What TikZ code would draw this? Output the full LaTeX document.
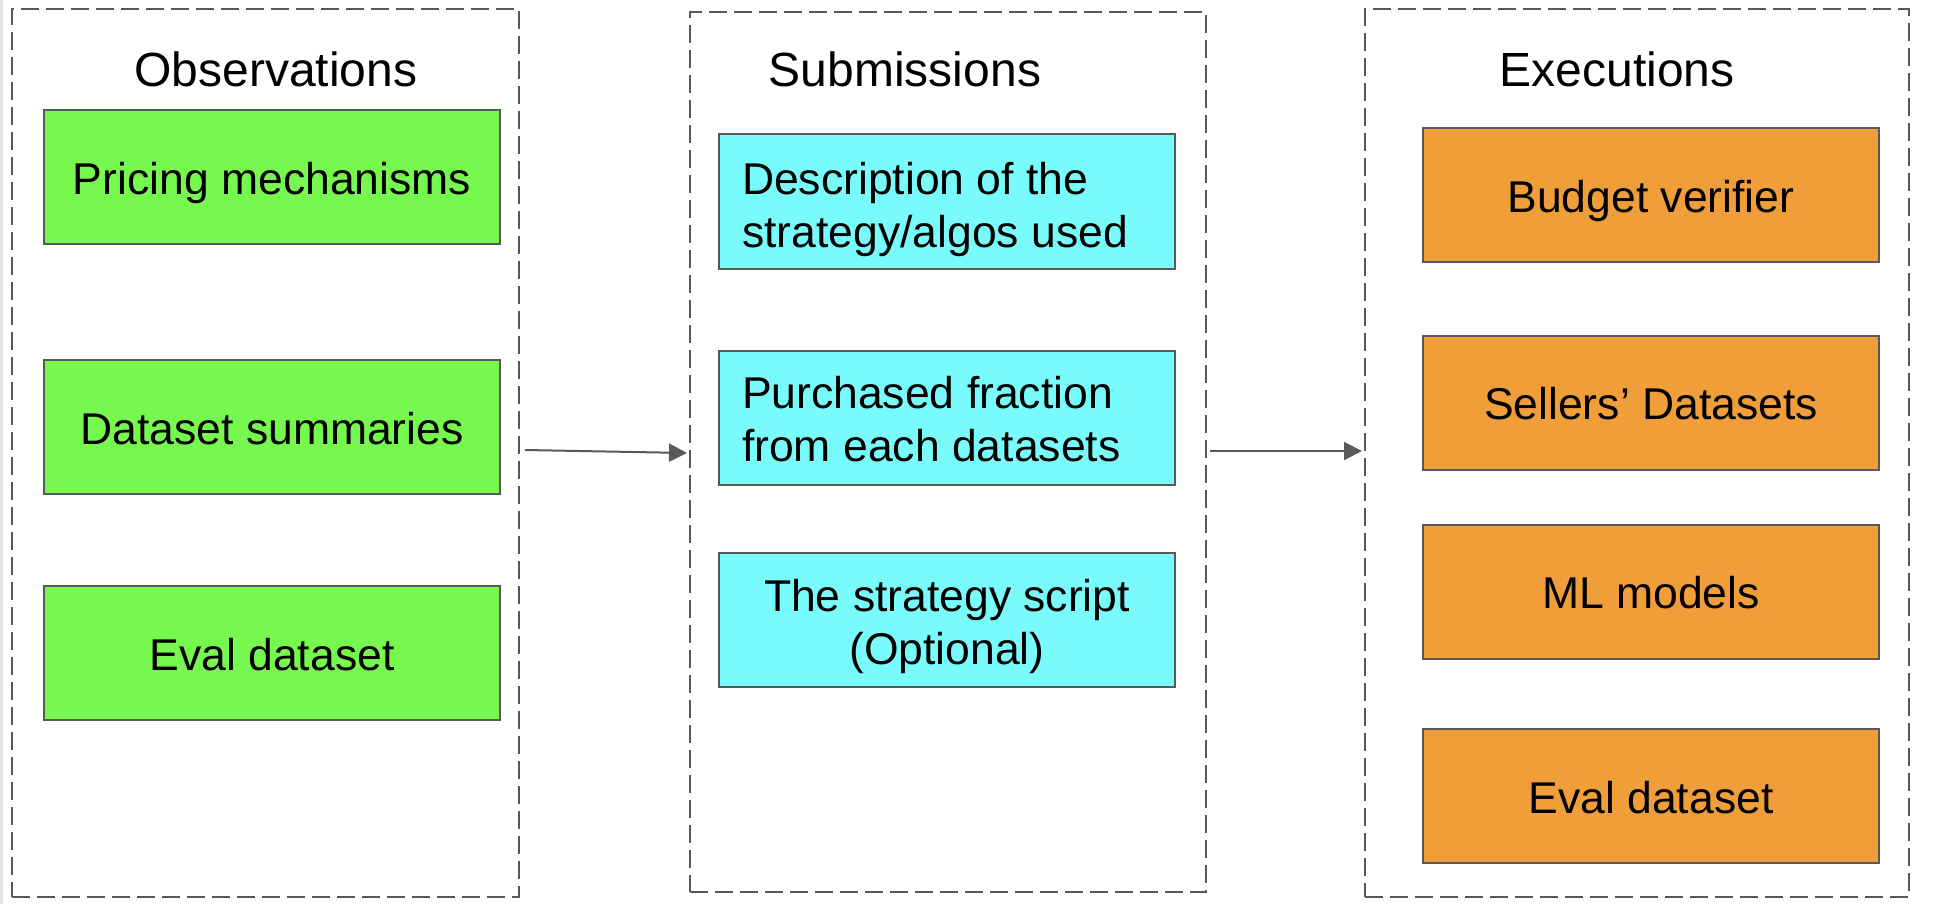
\documentclass[tikz,border=0pt]{standalone}
\usepackage{fontspec}
\setmainfont{Liberation Sans}
\usetikzlibrary{arrows.meta}
\definecolor{edge}{HTML}{595959}
\definecolor{gfill}{HTML}{77F84F}
\definecolor{cfill}{HTML}{7AFBFB}
\definecolor{ofill}{HTML}{F09E39}
\definecolor{strip}{HTML}{E2E2E2}
\newcommand\lefttwo[2]{\vtop{\hbox to 205pt{#1\hfil}\hbox to 205pt{#2\hfil}}}
\newcommand\centertwo[2]{\vtop{\hbox to 205pt{\hfil#1\hfil}\hbox to 205pt{\hfil#2\hfil}}}
\tikzset{
  group/.style={draw=edge, line width=1pt, dash pattern=on 9pt off 3.5pt, minimum width=#1, inner sep=0pt},
  itembox/.style={draw=edge, line width=1pt, minimum width=228pt, minimum height=67pt, inner sep=0pt,
    text height=17.43pt, text depth=0pt, font=\fontsize{22.25}{26.7}\selectfont},
  twobox/.style={itembox, inner xsep=11.5pt, text height=15.93pt, text depth=#1},
  grp title/.style={anchor=base, inner sep=0pt, font=\fontsize{24}{28}\selectfont},
  arr/.style={draw=edge, line width=1pt, -{Triangle[length=9pt,width=9pt]}, color=edge}
}
\begin{document}
\begin{tikzpicture}[x=0.5pt,y=-0.5pt]
\useasboundingbox (0,0) rectangle (1950,904);
\fill[strip] (0,0) rectangle (3,904);
% groups
\node[group=253.5pt, minimum height=444pt] (g1) at (265.5,453) {};
\node[group=258pt, minimum height=440pt] (g2) at (948,452) {};
\node[group=272pt, minimum height=444pt] (g3) at (1637,453) {};
% titles
\node[grp title] (t1) at (276,86.5) {Observations};
\node[grp title] (t2) at (905,86.5) {Submissions};
\node[grp title] (t3) at (1617,86.5) {Executions};
% observations
\node[itembox, fill=gfill] (o1) at (272,177) {Pricing mechanisms};
\node[itembox, fill=gfill] (o2) at (272,427) {Dataset summaries};
\node[itembox, fill=gfill] (o3) at (272,653) {Eval dataset};
% submissions
\node[twobox=23.2pt, fill=cfill] (s1) at (947,201.5) {\lefttwo{Description of the}{strategy/algos used}};
\node[twobox=25.2pt, fill=cfill] (s2) at (947,417.5) {\lefttwo{Purchased fraction}{from each datasets}};
\node[twobox=24.6pt, fill=cfill] (s3) at (947,620) {\centertwo{The strategy script}{(Optional)}};
% executions
\node[itembox, fill=ofill] (e1) at (1651,195) {Budget verifier};
\node[itembox, fill=ofill] (e2) at (1651,402.5) {Sellers’ Datasets};
\node[itembox, fill=ofill] (e3) at (1651,591.5) {ML models};
\node[itembox, fill=ofill] (e4) at (1651,796) {Eval dataset};
% arrows
\draw[arr] ([xshift=2.5pt,yshift=1.5pt]g1.east) -- ([xshift=-1pt,yshift=-0.5pt]g2.west);
\draw[arr] ([xshift=1.5pt,yshift=0.5pt]g2.east) -- ([xshift=-1pt,yshift=1pt]g3.west);
\end{tikzpicture}
\end{document}
